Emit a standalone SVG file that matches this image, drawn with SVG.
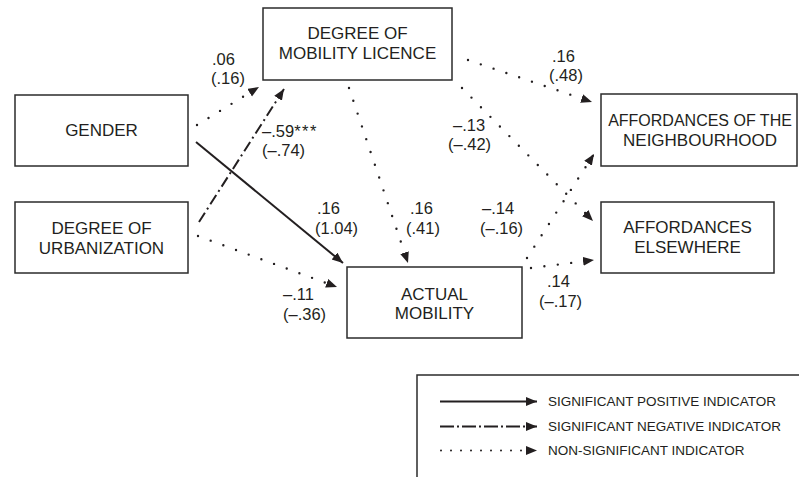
<svg xmlns="http://www.w3.org/2000/svg" width="799" height="477" viewBox="0 0 799 477">
<style>
  .box { fill: #fff; stroke: #2b2b2b; stroke-width: 1.5; }
  .bt { font-family: "Liberation Sans", Arial, sans-serif; font-size: 17px; fill: #231f20; text-anchor: middle; }
  .lb { font-family: "Liberation Sans", Arial, sans-serif; font-size: 16.5px; fill: #231f20; }
  .lg { font-family: "Liberation Sans", Arial, sans-serif; font-size: 13.5px; fill: #231f20; }
  .solid { fill: none; stroke: #231f20; stroke-width: 2; marker-end: url(#ah); }
  .dashdot { fill: none; stroke: #231f20; stroke-width: 2; stroke-dasharray: 11 4 2 4; marker-end: url(#ah); }
  .dotted { fill: none; stroke: #231f20; stroke-width: 2.4; stroke-linecap: round; stroke-dasharray: 0 13.5; marker-end: url(#ah); }
</style>
<defs>
  <marker id="ah" markerUnits="userSpaceOnUse" markerWidth="12" markerHeight="10" refX="11" refY="4.5" orient="auto">
    <path d="M0,0 L11,4.5 L0,9 z" fill="#231f20"/>
  </marker>
</defs>
<rect width="799" height="477" fill="#fff"/>

<g id="connectors">
  <line class="dotted" x1="197" y1="125" x2="259" y2="87"/>
  <line class="dashdot" x1="199" y1="222" x2="284" y2="89"/>
  <line class="solid" x1="196" y1="142" x2="343" y2="263"/>
  <line class="dotted" x1="198" y1="236" x2="337" y2="287"/>
  <line class="dotted" x1="349" y1="88" x2="408" y2="263"/>
  <line class="dotted" x1="468" y1="60" x2="592" y2="102"/>
  <line class="dotted" x1="462" y1="88" x2="593" y2="221"/>
  <line class="dotted" x1="527" y1="258" x2="594" y2="154"/>
  <line class="dotted" x1="531" y1="268" x2="594" y2="260"/>
</g>

<g id="gender">
  <rect class="box" x="15" y="95" width="173" height="71"/>
  <text class="bt" x="101.5" y="136">GENDER</text>
</g>
<g id="urbanization">
  <rect class="box" x="15" y="202" width="173" height="71"/>
  <text class="bt" x="101.5" y="234">DEGREE OF</text>
  <text class="bt" x="101.5" y="254">URBANIZATION</text>
</g>
<g id="mobility-licence">
  <rect class="box" x="263" y="8" width="189" height="72"/>
  <text class="bt" x="357.5" y="39">DEGREE OF</text>
  <text class="bt" x="357.5" y="59">MOBILITY LICENCE</text>
</g>
<g id="neighbourhood">
  <rect class="box" x="601" y="94" width="196" height="72"/>
  <text class="bt" x="700" y="126" style="font-size:16px">AFFORDANCES OF THE</text>
  <text class="bt" x="700" y="146">NEIGHBOURHOOD</text>
</g>
<g id="elsewhere">
  <rect class="box" x="601" y="202" width="173" height="71"/>
  <text class="bt" x="687.5" y="233">AFFORDANCES</text>
  <text class="bt" x="687.5" y="253">ELSEWHERE</text>
</g>
<g id="actual-mobility">
  <rect class="box" x="347" y="267" width="175" height="71"/>
  <text class="bt" x="434.5" y="300">ACTUAL</text>
  <text class="bt" x="434.5" y="319">MOBILITY</text>
</g>

<g id="labels">
  <text class="lb" x="212" y="65">.06</text>
  <text class="lb" x="211" y="84">(.16)</text>
  <text class="lb" x="262" y="137">–.59<tspan letter-spacing="1.5">***</tspan></text>
  <text class="lb" x="262" y="156">(–.74)</text>
  <text class="lb" x="317" y="214">.16</text>
  <text class="lb" x="315" y="234">(1.04)</text>
  <text class="lb" x="410" y="214">.16</text>
  <text class="lb" x="406" y="234">(.41)</text>
  <text class="lb" x="482" y="214">–.14</text>
  <text class="lb" x="480" y="234">(–.16)</text>
  <text class="lb" x="283" y="300">–.11</text>
  <text class="lb" x="283" y="320">(–.36)</text>
  <text class="lb" x="547" y="287">.14</text>
  <text class="lb" x="539" y="307">(–.17)</text>
  <text class="lb" x="552" y="62">.16</text>
  <text class="lb" x="549" y="81">(.48)</text>
  <text class="lb" x="453" y="131">–.13</text>
  <text class="lb" x="448" y="150">(–.42)</text>
</g>

<g id="legend">
  <path d="M417,477 V375 H799" fill="none" stroke="#2b2b2b" stroke-width="1.5"/>
  <line class="solid" x1="440" y1="401.5" x2="537" y2="401.5"/>
  <line class="dashdot" x1="440" y1="426.5" x2="537" y2="426.5" style="stroke-dasharray: 14 3 2 3"/>
  <line class="dotted" x1="441" y1="450.5" x2="537" y2="450.5" style="stroke-dasharray: 0 10; stroke-width: 2"/>
  <text class="lg" x="548" y="406">SIGNIFICANT POSITIVE INDICATOR</text>
  <text class="lg" x="548" y="431">SIGNIFICANT NEGATIVE INDICATOR</text>
  <text class="lg" x="548" y="455">NON-SIGNIFICANT INDICATOR</text>
</g>
</svg>
